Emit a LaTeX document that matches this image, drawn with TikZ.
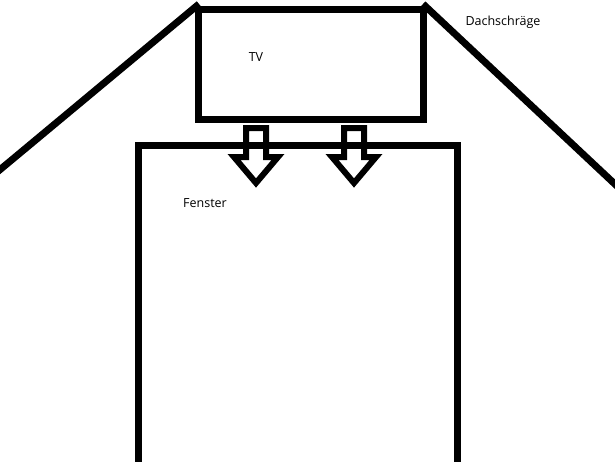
\documentclass[tikz,border=0pt]{standalone}
\usepackage{fontspec}
\setmainfont{Open Sans}
\begin{document}
\begin{tikzpicture}[x=1pt,y=-1pt,
  thick line/.style={line width=7pt,line join=miter},
  arrowshape/.style={line width=6pt,line join=miter},
  lbl/.style={font=\fontsize{12.5}{14}\selectfont,inner sep=0pt}]
\useasboundingbox[fill=white] (0,0) rectangle (615,461);
% roof slopes
\coordinate (rl0) at (-4,173);
\coordinate (rl1) at (199,4);
\coordinate (rr0) at (423,4);
\coordinate (rr1) at (618,187);
\draw[thick line] (rl0) -- (rl1);
\draw[thick line] (rr0) -- (rr1);
% TV
\node[draw,thick line,minimum width=225pt,minimum height=110pt,anchor=north west,inner sep=0pt,outer sep=0pt] (tv) at (198,9.5) {};
\node[lbl] (tvl) at (256,57) {TV};
% window
\coordinate (w0) at (138,465);
\coordinate (w1) at (138,145.5);
\coordinate (w2) at (457,145.5);
\coordinate (w3) at (457,465);
\draw[thick line] (w0) -- (w1) -- (w2) -- (w3);
\node[lbl] (fl) at (205,203) {Fenster};
\node[lbl] (dl) at (503,22) {Dachschräge};
% arrows
\foreach \cx/\nm in {256/a1,354/a2}{
  \draw[arrowshape] (\cx-10,128) -- (\cx+10,128) -- (\cx+10,157) -- (\cx+22,157) -- (\cx,183) -- (\cx-22,157) -- (\cx-10,157) -- cycle;
}
\end{tikzpicture}
\end{document}
